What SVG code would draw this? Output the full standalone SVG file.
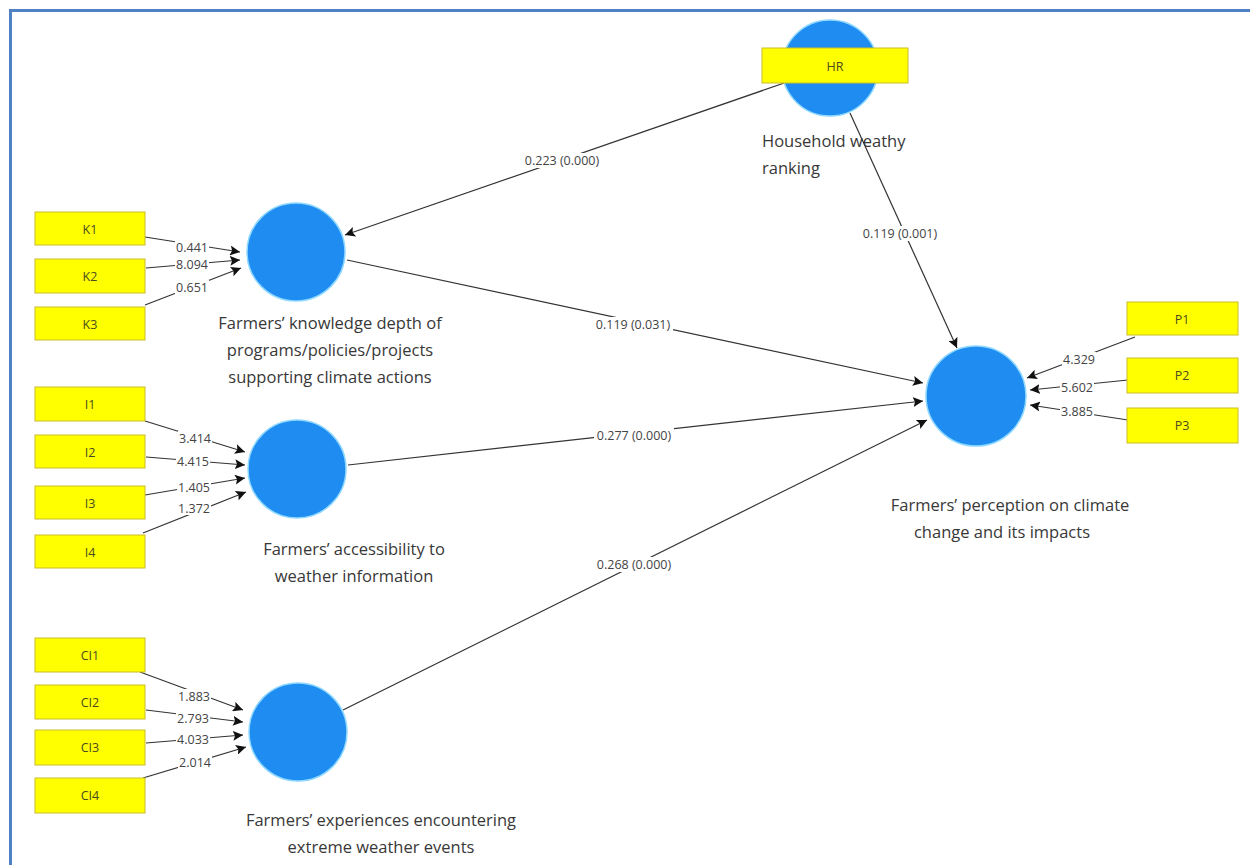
<svg xmlns="http://www.w3.org/2000/svg" width="1250" height="865" viewBox="0 0 1250 865">
<style>
.bg{fill:#ffffff}
.frame{stroke:#4f81c4;stroke-width:3;fill:none}
.lv{fill:#1e8cf0;stroke:#8fd8ff;stroke-width:1.5}
.mv{fill:#ffff00;stroke:#c9bd2a;stroke-width:1}
.mvt{font-family:"Open Sans","Noto Sans",sans-serif;font-size:12.5px;fill:#4a4a22;text-anchor:middle;dominant-baseline:central}
.lab{font-family:"Open Sans","Noto Sans",sans-serif;font-size:16.5px;fill:#383838;text-anchor:middle}
.conn line{stroke:#333;stroke-width:1.2;marker-end:url(#ah)}
.num{font-family:"Open Sans","Noto Sans",sans-serif;font-size:12.5px;fill:#444;text-anchor:middle;dominant-baseline:central}
.lb{fill:#ffffff}
</style>
<defs>
<marker id="ah" markerUnits="userSpaceOnUse" markerWidth="11" markerHeight="10" refX="10" refY="5" orient="auto">
<path d="M0,0 L10,5 L0,10 L2,5 z" fill="#111"/>
</marker>
</defs>
<rect class="bg" width="1250" height="865"/>
<path class="frame" d="M10.5,865 V10.5 H1250"/>

<g id="connectors" class="conn">
<line x1="145" y1="237" x2="240" y2="252"/>
<line x1="146" y1="268" x2="240" y2="260"/>
<line x1="145" y1="305" x2="241" y2="268"/>
<line x1="145" y1="421" x2="245" y2="452"/>
<line x1="146" y1="457" x2="245" y2="465"/>
<line x1="145" y1="495" x2="245" y2="478"/>
<line x1="143" y1="533" x2="246" y2="492"/>
<line x1="140" y1="672" x2="243" y2="710"/>
<line x1="146" y1="710" x2="243" y2="722"/>
<line x1="146" y1="743" x2="243" y2="735"/>
<line x1="143" y1="778" x2="246" y2="747"/>
<line x1="1135" y1="337" x2="1027" y2="378"/>
<line x1="1128" y1="380" x2="1030" y2="390"/>
<line x1="1128" y1="420" x2="1030" y2="405"/>
<line x1="790" y1="81" x2="345" y2="235"/>
<line x1="850" y1="113" x2="957" y2="348"/>
<line x1="347" y1="260" x2="923" y2="383"/>
<line x1="348" y1="465" x2="923" y2="401"/>
<line x1="343" y1="710" x2="927" y2="420"/>
</g>

<g id="path-labels">
<rect class="lb" x="175" y="240" width="34" height="14"/>
<rect class="lb" x="175" y="257" width="34" height="14"/>
<rect class="lb" x="175" y="280" width="34" height="14"/>
<rect class="lb" x="178" y="431" width="34" height="14"/>
<rect class="lb" x="176" y="454" width="34" height="14"/>
<rect class="lb" x="177" y="480" width="34" height="14"/>
<rect class="lb" x="177" y="501" width="34" height="14"/>
<rect class="lb" x="177" y="689" width="34" height="14"/>
<rect class="lb" x="176" y="711" width="34" height="14"/>
<rect class="lb" x="176" y="732" width="34" height="14"/>
<rect class="lb" x="178" y="755" width="34" height="14"/>
<rect class="lb" x="1062" y="352" width="34" height="14"/>
<rect class="lb" x="1060" y="380" width="34" height="14"/>
<rect class="lb" x="1060" y="404" width="34" height="14"/>
<rect class="lb" x="522" y="153" width="80" height="15"/>
<rect class="lb" x="593" y="317" width="80" height="15"/>
<rect class="lb" x="594" y="428" width="80" height="15"/>
<rect class="lb" x="594" y="557" width="80" height="15"/>
<rect class="lb" x="860" y="226" width="80" height="15"/>
<text class="num" x="192" y="247">0.441</text>
<text class="num" x="192" y="264">8.094</text>
<text class="num" x="192" y="287">0.651</text>
<text class="num" x="195" y="438">3.414</text>
<text class="num" x="193" y="461">4.415</text>
<text class="num" x="194" y="487">1.405</text>
<text class="num" x="194" y="508">1.372</text>
<text class="num" x="194" y="696">1.883</text>
<text class="num" x="193" y="718">2.793</text>
<text class="num" x="193" y="739">4.033</text>
<text class="num" x="195" y="762">2.014</text>
<text class="num" x="1079" y="359">4.329</text>
<text class="num" x="1077" y="387">5.602</text>
<text class="num" x="1077" y="411">3.885</text>
<text class="num" x="562" y="160">0.223 (0.000)</text>
<text class="num" x="633" y="324">0.119 (0.031)</text>
<text class="num" x="634" y="435">0.277 (0.000)</text>
<text class="num" x="634" y="564">0.268 (0.000)</text>
<text class="num" x="900" y="233">0.119 (0.001)</text>
</g>

<g id="K">
<circle class="lv" cx="296" cy="252" r="49"/>
<text class="lab" x="330" y="329">Farmers’ knowledge depth of</text>
<text class="lab" x="330" y="356">programs/policies/projects</text>
<text class="lab" x="330" y="383">supporting climate actions</text>
</g>
<g id="K1"><rect class="mv" x="35" y="212" width="110" height="33"/><text class="mvt" x="90" y="229">K1</text></g>
<g id="K2"><rect class="mv" x="35" y="259" width="110" height="34"/><text class="mvt" x="90" y="276">K2</text></g>
<g id="K3"><rect class="mv" x="35" y="307" width="110" height="33"/><text class="mvt" x="90" y="324">K3</text></g>

<g id="I">
<circle class="lv" cx="297" cy="469" r="49"/>
<text class="lab" x="354" y="555">Farmers’ accessibility to</text>
<text class="lab" x="354" y="582">weather information</text>
</g>
<g id="I1"><rect class="mv" x="35" y="387" width="110" height="34"/><text class="mvt" x="90" y="404">I1</text></g>
<g id="I2"><rect class="mv" x="35" y="435" width="110" height="33"/><text class="mvt" x="90" y="452">I2</text></g>
<g id="I3"><rect class="mv" x="35" y="486" width="110" height="33"/><text class="mvt" x="90" y="503">I3</text></g>
<g id="I4"><rect class="mv" x="35" y="535" width="110" height="33"/><text class="mvt" x="90" y="552">I4</text></g>

<g id="CI">
<circle class="lv" cx="298" cy="732" r="49"/>
<text class="lab" x="381" y="826">Farmers’ experiences encountering</text>
<text class="lab" x="381" y="853">extreme weather events</text>
</g>
<g id="CI1"><rect class="mv" x="35" y="638" width="110" height="34"/><text class="mvt" x="90" y="655">CI1</text></g>
<g id="CI2"><rect class="mv" x="35" y="685" width="110" height="34"/><text class="mvt" x="90" y="702">CI2</text></g>
<g id="CI3"><rect class="mv" x="35" y="730" width="110" height="35"/><text class="mvt" x="90" y="747">CI3</text></g>
<g id="CI4"><rect class="mv" x="35" y="778" width="110" height="35"/><text class="mvt" x="90" y="795">CI4</text></g>

<g id="HR">
<circle class="lv" cx="830" cy="68" r="48"/>
<rect class="mv" x="762" y="48" width="146" height="35"/>
<text class="mvt" x="835" y="66">HR</text>
<text class="lab" x="762" y="147" style="text-anchor:start">Household weathy</text>
<text class="lab" x="762" y="174" style="text-anchor:start">ranking</text>
</g>

<g id="P">
<circle class="lv" cx="976" cy="396" r="50"/>
<text class="lab" x="1010" y="511">Farmers’ perception on climate</text>
<text class="lab" x="1002" y="538">change and its impacts</text>
</g>
<g id="P1"><rect class="mv" x="1127" y="302" width="111" height="33"/><text class="mvt" x="1182" y="319">P1</text></g>
<g id="P2"><rect class="mv" x="1127" y="358" width="111" height="35"/><text class="mvt" x="1182" y="375">P2</text></g>
<g id="P3"><rect class="mv" x="1127" y="408" width="111" height="35"/><text class="mvt" x="1182" y="425">P3</text></g>
</svg>
